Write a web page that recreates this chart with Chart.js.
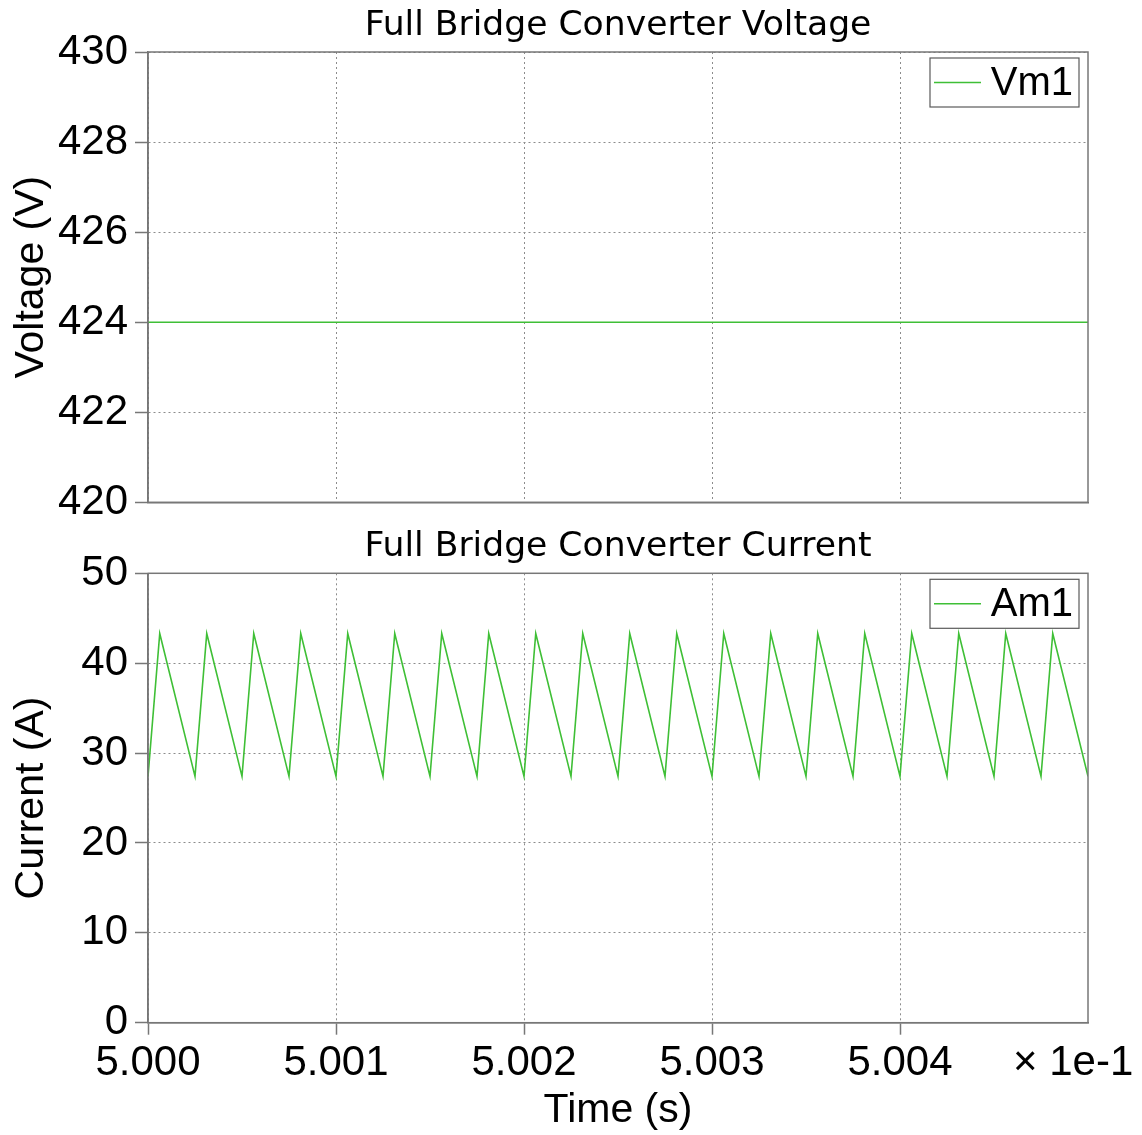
<!DOCTYPE html>
<html>
<head>
<meta charset="utf-8">
<script src="https://cdn.jsdelivr.net/npm/chart.js@4.4.1/dist/chart.umd.min.js"></script>
<style>
  html, body { margin: 0; padding: 0; background: #fff; }
  #wrap { position: relative; width: 1142px; height: 1135px; }
  canvas { position: absolute; left: 0; }
</style>
</head>
<body>
<div id="wrap">
  <canvas id="vChart" width="1142" height="561" style="top:0"></canvas>
  <canvas id="iChart" width="1142" height="614" style="top:521px"></canvas>
</div>
<script>
// Vm1: converter output voltage (V), flat over the window
const voltageTime = [0.5000, 0.5005];
const voltageVm1 = [424, 424];

// Am1: converter current (A), trough / peak breakpoints of the ripple
const currentTime = [
  0.50000000, 0.50000625, 0.50002500, 0.50003125, 0.50005000, 0.50005625,
  0.50007500, 0.50008125, 0.50010000, 0.50010625, 0.50012500, 0.50013125,
  0.50015000, 0.50015625, 0.50017500, 0.50018125, 0.50020000, 0.50020625,
  0.50022500, 0.50023125, 0.50025000, 0.50025625, 0.50027500, 0.50028125,
  0.50030000, 0.50030625, 0.50032500, 0.50033125, 0.50035000, 0.50035625,
  0.50037500, 0.50038125, 0.50040000, 0.50040625, 0.50042500, 0.50043125,
  0.50045000, 0.50045625, 0.50047500, 0.50048125, 0.50050000
];
const currentAm1 = [
  27.4, 43.3, 27.4, 43.3, 27.4, 43.3,
  27.4, 43.3, 27.4, 43.3, 27.4, 43.3,
  27.4, 43.3, 27.4, 43.3, 27.4, 43.3,
  27.4, 43.3, 27.4, 43.3, 27.4, 43.3,
  27.4, 43.3, 27.4, 43.3, 27.4, 43.3,
  27.4, 43.3, 27.4, 43.3, 27.4, 43.3,
  27.4, 43.3, 27.4, 43.3, 27.4
];

// Axis ticks
const timeTicks = [0.5000, 0.5001, 0.5002, 0.5003, 0.5004];
const voltageTicks = [420, 422, 424, 426, 428, 430];
const currentTicks = [0, 10, 20, 30, 40, 50];
const timeMultiplier = '\u00d7 1e-1';

const TRACE_COLOR = '#3fbf36';
const FRAME_COLOR = '#777777';
const GRID_COLOR = '#8c8c8c';
const TITLE_FONT = { family: "'DejaVu Sans', sans-serif", size: 34.6, weight: 'normal' };
const TICK_FONT = { family: "'Liberation Sans', Arial, sans-serif", size: 42 };
const LEGEND_FONT = { family: "'Liberation Sans', Arial, sans-serif", size: 40 };
const AXIS_FONT = { family: "'Liberation Sans', Arial, sans-serif", size: 41 };

const toPoints = (xs, ys) => xs.map((x, i) => ({ x, y: ys[i] }));

// Solid box around the plot area
const framePlugin = {
  id: 'frame',
  afterDraw(chart) {
    const { ctx, chartArea: a } = chart;
    ctx.save();
    ctx.strokeStyle = FRAME_COLOR;
    ctx.lineWidth = 1.5;
    ctx.strokeRect(a.left, a.top, a.right - a.left, a.bottom - a.top);
    ctx.restore();
  }
};

// Boxed legend in the upper-right corner of the plot
const boxLegendPlugin = {
  id: 'boxLegend',
  afterDraw(chart) {
    const { ctx, chartArea: a } = chart;
    const ds = chart.data.datasets[0];
    const w = 149, h = 49;
    const x = a.right - 9 - w, y = a.top + 6;
    ctx.save();
    ctx.fillStyle = '#fff';
    ctx.fillRect(x, y, w, h);
    ctx.strokeStyle = '#5a5a5a';
    ctx.lineWidth = 1.2;
    ctx.strokeRect(x, y, w, h);
    ctx.strokeStyle = ds.borderColor;
    ctx.lineWidth = 1.5;
    ctx.beginPath();
    ctx.moveTo(x + 4, y + h / 2);
    ctx.lineTo(x + 51, y + h / 2);
    ctx.stroke();
    ctx.fillStyle = '#000';
    ctx.font = `${LEGEND_FONT.size}px ${LEGEND_FONT.family}`;
    ctx.textAlign = 'right';
    ctx.textBaseline = 'middle';
    ctx.fillText(ds.label, x + w - 6, y + h / 2 + 1);
    ctx.restore();
  }
};

// Exponent note to the right of the time tick labels
const multiplierPlugin = {
  id: 'multiplier',
  afterDraw(chart) {
    const { ctx } = chart;
    const xs = chart.scales.x;
    ctx.save();
    ctx.fillStyle = '#000';
    ctx.font = `${TICK_FONT.size}px ${TICK_FONT.family}`;
    ctx.textAlign = 'left';
    ctx.textBaseline = 'middle';
    ctx.fillText(timeMultiplier, 1013, xs.top + 16 + TICK_FONT.size * 0.6);
    ctx.restore();
  }
};

function yAxis(min, max, ticks, title) {
  return {
    type: 'linear', min, max,
    afterBuildTicks: s => { s.ticks = ticks.map(v => ({ value: v })); },
    afterFit: s => { s.width = 148; },
    grid: { color: GRID_COLOR, lineWidth: 1, tickLength: 13, tickColor: FRAME_COLOR, tickWidth: 1.5, tickBorderDash: [] },
    border: { display: true, color: FRAME_COLOR, width: 1.5, dash: [2, 3] },
    ticks: { color: '#000', font: TICK_FONT, padding: 7 },
    title: { display: true, text: title, color: '#000', font: AXIS_FONT, padding: { top: 7, bottom: 0 } }
  };
}

function baseOptions(titleText, titlePadTop, titlePadBottom) {
  return {
    responsive: false,
    animation: false,
    devicePixelRatio: 1,
    layout: { autoPadding: false, padding: { left: 0, right: 54, top: 0, bottom: 0 } },
    plugins: {
      legend: { display: false },
      tooltip: { enabled: false },
      title: {
        display: true, text: titleText, fullSize: false, color: '#000',
        font: TITLE_FONT, padding: { top: titlePadTop, bottom: titlePadBottom }
      }
    }
  };
}

// Voltage panel
const vOpts = baseOptions('Full Bridge Converter Voltage', 5, 5.48);
vOpts.scales = {
  x: {
    type: 'linear', min: 0.5000, max: 0.5005,
    afterBuildTicks: s => { s.ticks = timeTicks.map(v => ({ value: v })); },
    afterFit: s => { s.height = 58.7; },
    grid: { color: GRID_COLOR, lineWidth: 1, drawTicks: false },
    border: { display: true, color: FRAME_COLOR, width: 1.5, dash: [2, 3] },
    ticks: { display: false }
  },
  y: yAxis(420, 430, voltageTicks, 'Voltage (V)')
};
new Chart(document.getElementById('vChart'), {
  type: 'line',
  data: {
    datasets: [{
      label: 'Vm1',
      data: toPoints(voltageTime, voltageVm1),
      borderColor: TRACE_COLOR, borderWidth: 1.6, pointRadius: 0, tension: 0, fill: false
    }]
  },
  options: vOpts,
  plugins: [framePlugin, boxLegendPlugin]
});

// Current panel
const iOpts = baseOptions('Full Bridge Converter Current', 5, 5.78);
iOpts.scales = {
  x: {
    type: 'linear', min: 0.5000, max: 0.5005,
    afterBuildTicks: s => { s.ticks = timeTicks.map(v => ({ value: v })); },
    afterFit: s => { s.height = 112.3; },
    grid: { color: GRID_COLOR, lineWidth: 1, tickLength: 12, tickColor: FRAME_COLOR, tickWidth: 1.5, tickBorderDash: [] },
    border: { display: true, color: FRAME_COLOR, width: 1.5, dash: [2, 3] },
    ticks: {
      color: '#000', font: TICK_FONT, padding: 4, maxRotation: 0, autoSkip: false,
      callback: v => (v * 10).toFixed(3)
    },
    title: { display: true, text: 'Time (s)', color: '#000', font: AXIS_FONT, padding: { top: 0, bottom: 0 } }
  },
  y: yAxis(0, 50, currentTicks, 'Current (A)')
};
new Chart(document.getElementById('iChart'), {
  type: 'line',
  data: {
    datasets: [{
      label: 'Am1',
      data: toPoints(currentTime, currentAm1),
      borderColor: TRACE_COLOR, borderWidth: 1.6, pointRadius: 0, tension: 0, fill: false
    }]
  },
  options: iOpts,
  plugins: [framePlugin, boxLegendPlugin, multiplierPlugin]
});
</script>
</body>
</html>
